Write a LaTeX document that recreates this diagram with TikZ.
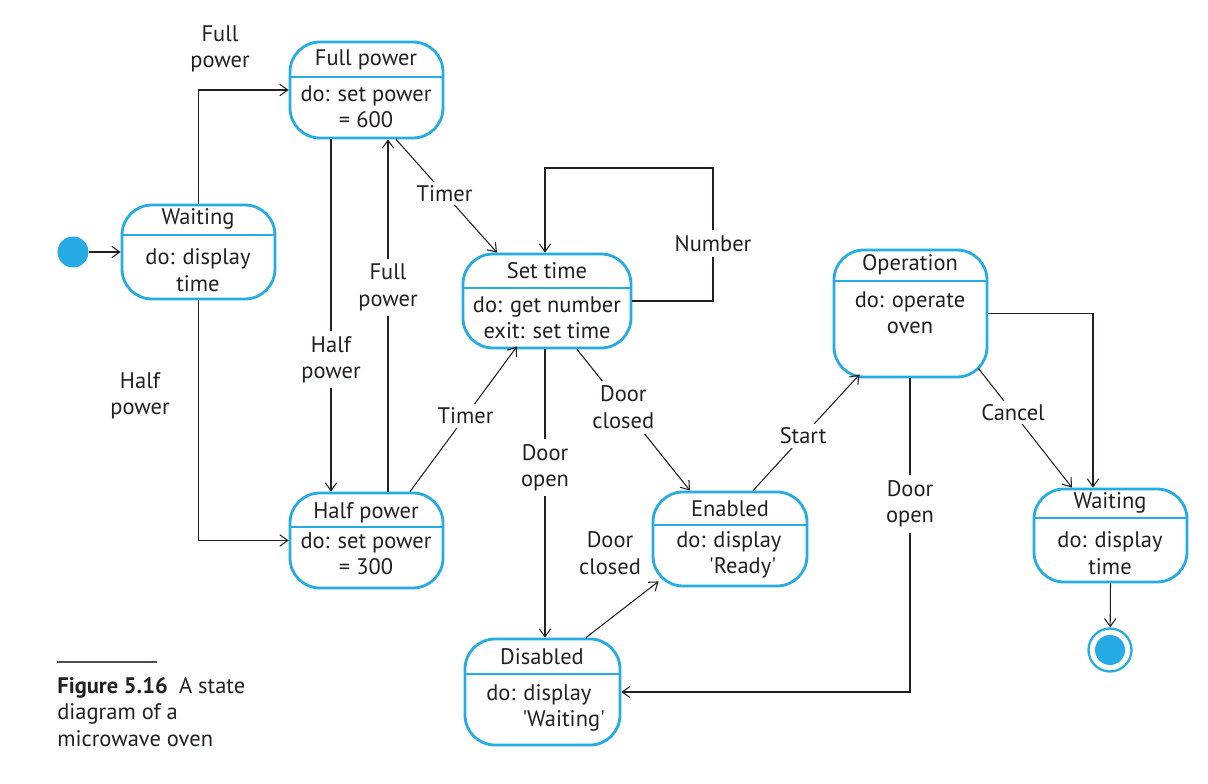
\documentclass[tikz,border=0pt]{standalone}
\usepackage{fontspec}
\setmainfont{PT Sans}
\usetikzlibrary{arrows.meta,fit,calc}
\definecolor{umlblue}{RGB}{38,171,228}
\definecolor{ink}{RGB}{35,31,32}
\newcommand\labelfont{\fontsize{12.8}{15}\selectfont}
\tikzset{
  statebox/.style={draw=umlblue, line width=1.6pt, rounded corners=0.6cm, inner sep=0pt},
  divider/.style={draw=umlblue, line width=0.8pt},
  txt/.style={text=ink, font=\labelfont, inner sep=0pt, align=center},
  lbl/.style={text=ink, font=\labelfont, fill=white, inner sep=3pt, align=center},
  conn/.style={draw=ink, line width=0.6pt, -{Straight Barb[length=4.5pt,width=6.5pt]}},
}
\begin{document}
\begin{tikzpicture}[x=0.02cm,y=-0.02cm]
\useasboundingbox (0,0) rectangle (1208,784);

% ---- states ----
\node[statebox, fit={(122,205) (275,299)}] (w1) {};
\draw[divider] (122,235) -- (275,235);
\node[txt] (w1t) at (198,219) {Waiting};
\node[txt] (w1b) at (198,270) {do: display\\time};

\node[statebox, fit={(290,42) (443,138)}] (fp) {};
\draw[divider] (290,77) -- (443,77);
\node[txt] (fpt) at (366,60) {Full power};
\node[txt] (fpb) at (366,107) {do: set power\\= 600};

\node[statebox, fit={(290,493) (443,588)}] (hp) {};
\draw[divider] (290,527) -- (443,527);
\node[txt] (hpt) at (366,513) {Half power};
\node[txt] (hpb) at (366,554) {do: set power\\= 300};

\node[statebox, fit={(463,254) (631,348)}] (st) {};
\draw[divider] (463,288) -- (631,288);
\node[txt] (stt) at (547,271) {Set time};
\node[txt] (stb) at (547,318) {do: get number\\exit: set time};

\node[statebox, fit={(834,250) (987,377)}] (op) {};
\draw[divider] (834,281) -- (987,281);
\node[txt] (opt) at (910,265) {Operation};
\node[txt] (opb) at (910,313) {do: operate\\oven};

\node[statebox, fit={(653,492) (807,586)}] (en) {};
\draw[divider] (653,525) -- (807,525);
\node[txt] (ent) at (730,509) {Enabled};
\node[txt, anchor=west, align=left] (enb) at (676,555) {do: display\\\hspace*{1.45em}\textquotesingle Ready\textquotesingle};

\node[statebox, fit={(465,639) (620,745)}] (dis) {};
\draw[divider] (465,674) -- (620,674);
\node[txt] (dist) at (542,657) {Disabled};
\node[txt, anchor=west, align=left] (disb) at (486,708) {do: display\\\hspace*{1.6em}\textquotesingle Waiting\textquotesingle};

\node[statebox, fit={(1034,489) (1187,582)}] (w2) {};
\draw[divider] (1034,518) -- (1187,518);
\node[txt] (w2t) at (1110,503) {Waiting};
\node[txt] (w2b) at (1110,553) {do: display\\time};

% ---- pseudo states ----
\node[circle, fill=umlblue, minimum size=0.62cm, inner sep=0pt] (init) at (73,252) {};
\node[circle, draw=umlblue, line width=1.3pt, minimum size=0.86cm, inner sep=0pt] (fin) at (1110,650) {};
\node[circle, fill=umlblue, minimum size=0.6cm, inner sep=0pt] (fincore) at (fin.center) {};

% ---- transitions ----
\draw[conn] (init) -- (w1);
\draw[conn] (w1.north) |- (fp.west);
\draw[conn] (w1.south) |- (hp.west);
\node[txt] (lfp1) at (220,49) {Full\\power};
\node[txt] (lhp1) at (140,396) {Half\\power};

\draw[conn] (331,0 |- fp.south) -- node[lbl, pos=0.625] (lhp2) {Half\\power} (331,0 |- hp.north);
\draw[conn] (388,0 |- hp.north) -- node[lbl, pos=0.58] (lfp2) {Full\\power} (388,0 |- fp.south);

\draw[conn] (396,0 |- fp.south) -- node[lbl, pos=0.48, inner sep=2pt] (lt1) {Timer} (497,0 |- st.north);
\draw[conn] (410,0 |- hp.north) -- node[lbl, pos=0.52, inner sep=2pt] (lt2) {Timer} ($(517,0 |- st.south)+(0,-3)$);

\draw[conn] (st.east) -- (713,0 |- st.east) -- node[lbl, pos=0.43] (lnum) {Number} (713,168) -| (545,0 |- st.north);

\draw[conn] (545,0 |- st.south) -- node[lbl, pos=0.41] (ldo1) {Door\\open} (545,0 |- dis.north);
\draw[conn] (577,0 |- st.south) -- node[lbl, pos=0.41] (ldc1) {Door\\closed} (690,0 |- en.north);

\draw[conn] (586,0 |- dis.north) -- ($(en.south west)+(7,-6)$);
\node[txt] (ldc2) at (610,553) {Door\\closed};

\draw[conn] (753,0 |- en.north) -- node[lbl, pos=0.47, inner sep=2pt] (lstart) {Start} ($(op.south west)+(27,-4)$);

\draw[conn] (910,0 |- op.south) |- node[lbl, pos=0.2] (ldo2) {Door\\open} (dis.east);

\draw[conn] ($(op.south east)+(-10,-10)$) -- node[lbl, pos=0.37, inner sep=2pt] (lcancel) {Cancel} (1072,0 |- w2.north);
\draw[conn] (op.east) -| (1093,0 |- w2.north);

\draw[conn] (w2.south) -- (fin);

% ---- caption ----
\draw[draw=ink!80, line width=0.7pt] (57,662) -- (157,662);
\node[txt, anchor=north west, align=left] (caption) at (57,677)
  {\textbf{Figure 5.16}\enspace A state\\diagram of a\\microwave oven};
\end{tikzpicture}
\end{document}
